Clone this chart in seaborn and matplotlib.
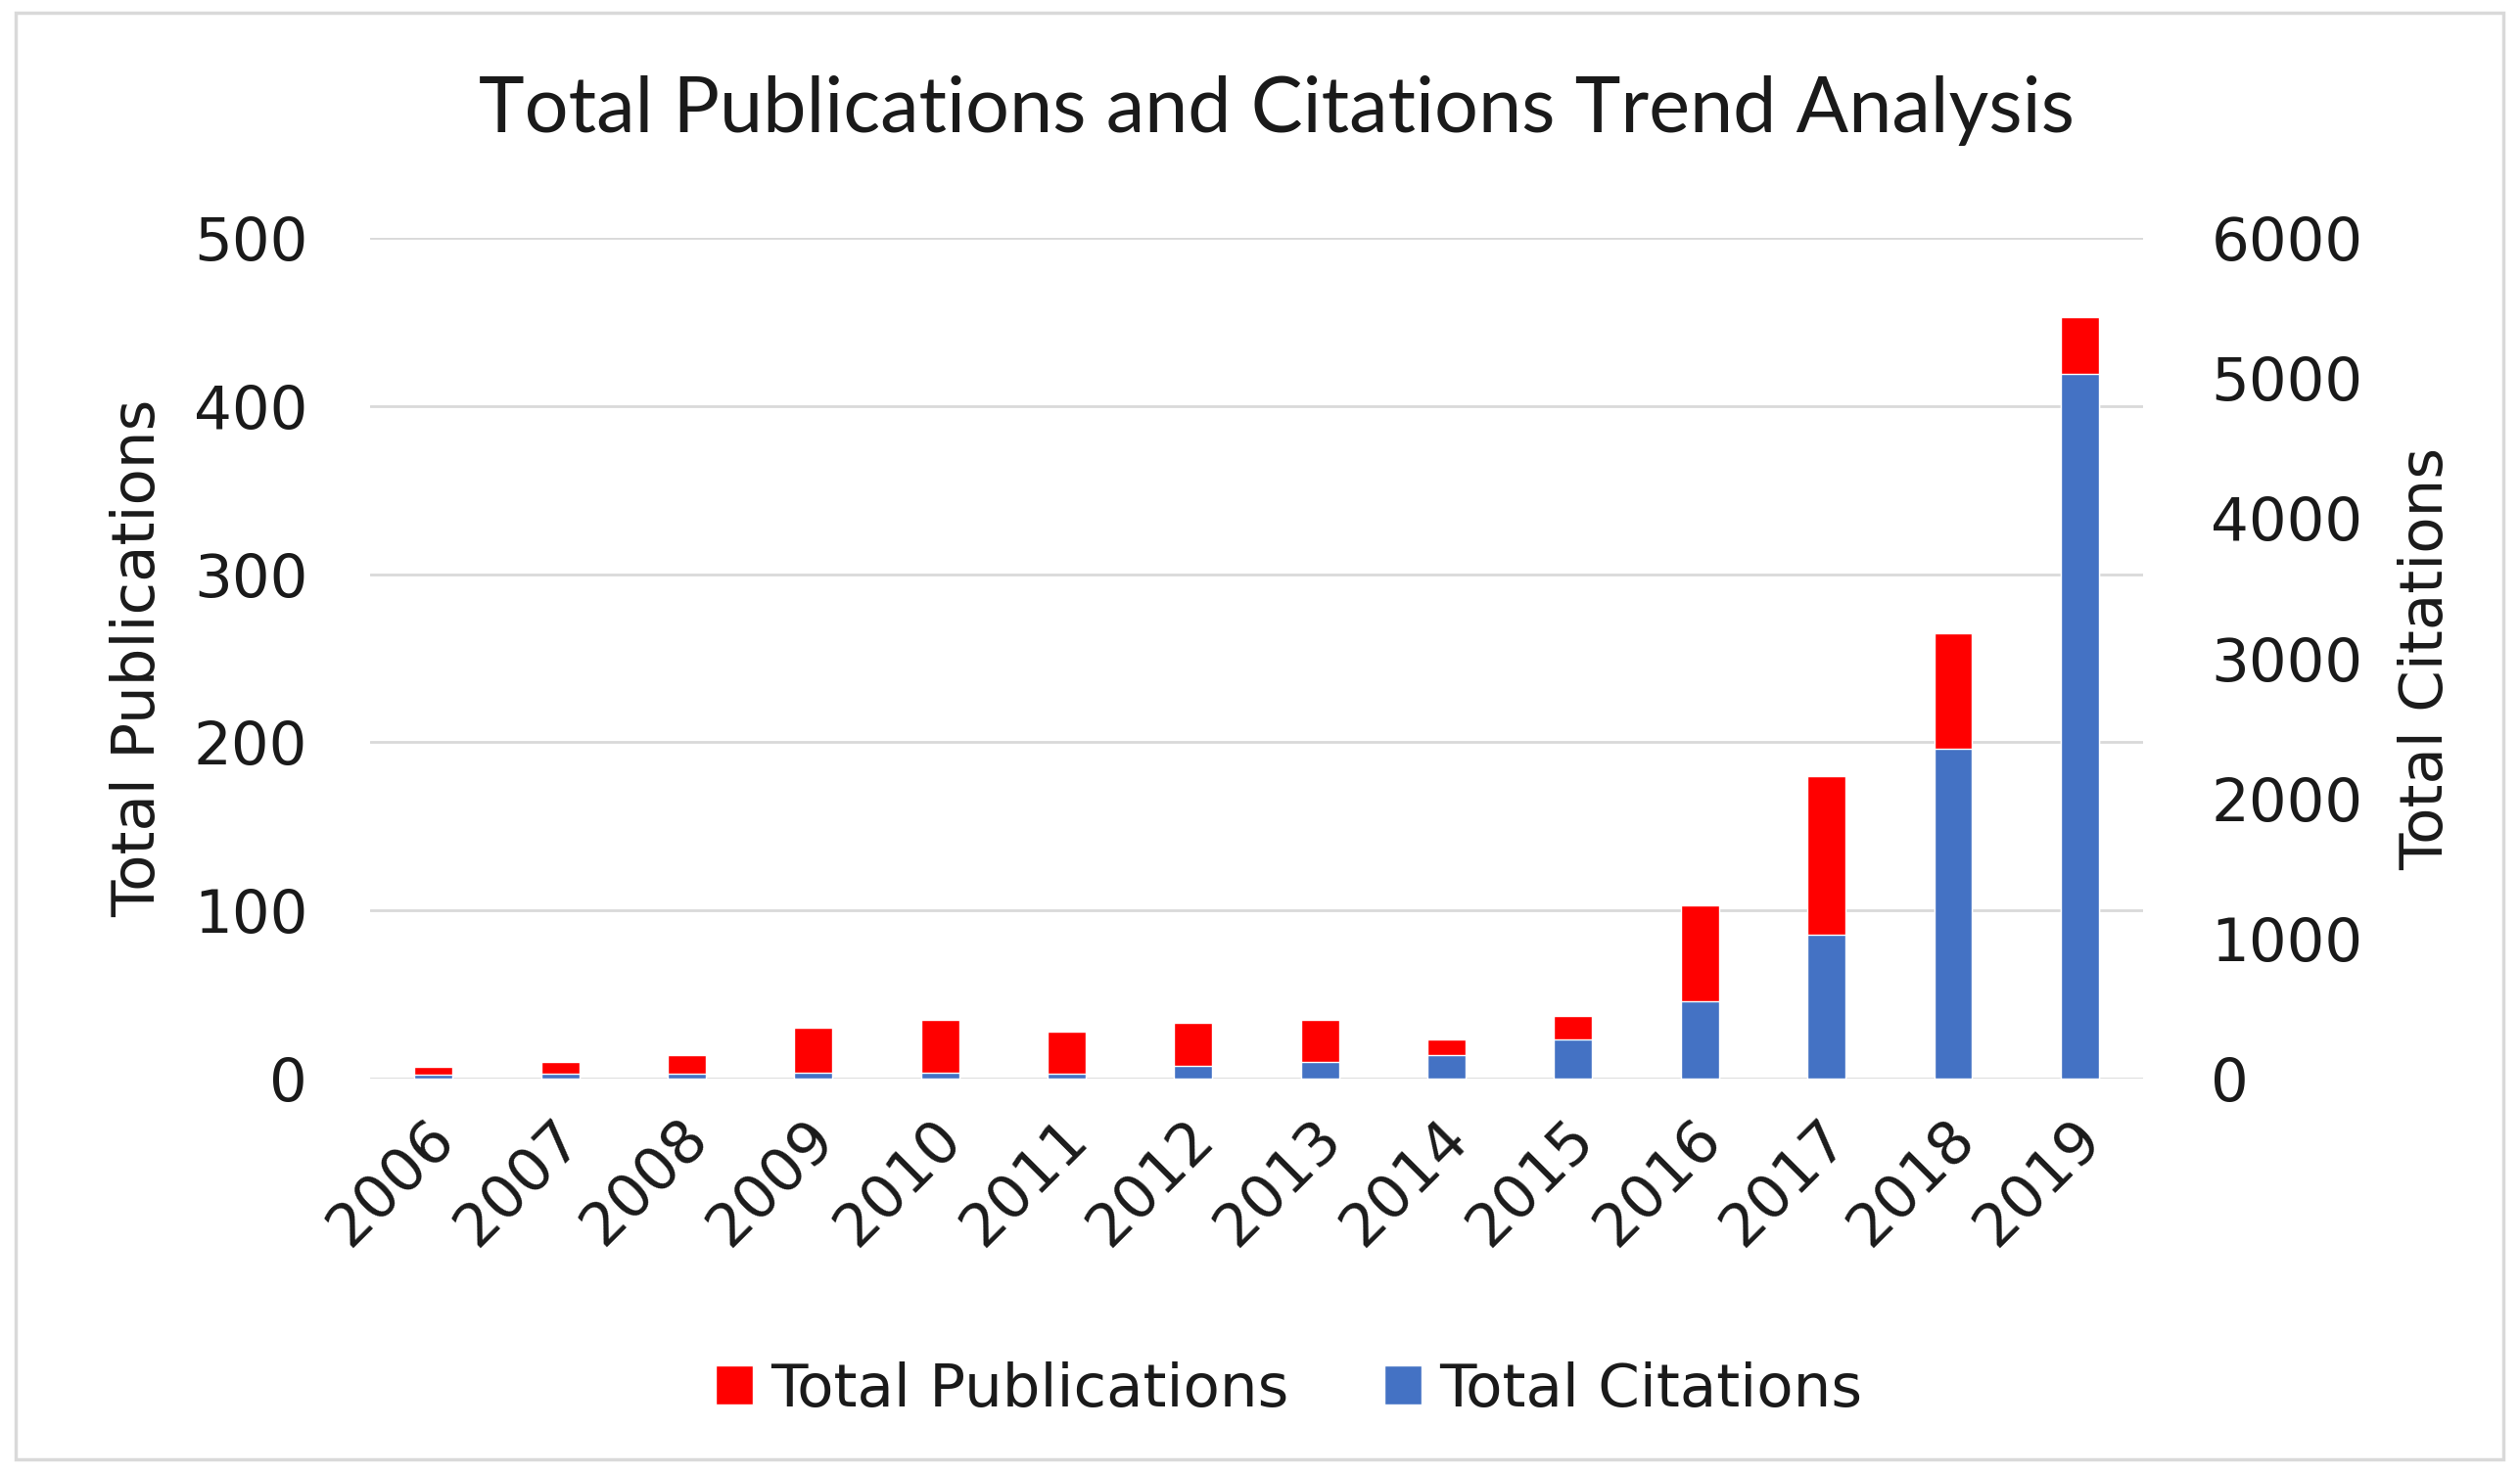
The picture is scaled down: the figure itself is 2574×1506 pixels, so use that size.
import matplotlib
matplotlib.use("Agg")
import matplotlib.pyplot as plt
import matplotlib.transforms as mtransforms
from matplotlib.patches import Patch, Rectangle
import seaborn as sns
import pandas as pd

# data
years = ["2006", "2007", "2008", "2009", "2010", "2011", "2012",
         "2013", "2014", "2015", "2016", "2017", "2018", "2019"]
publications = [7, 10, 14, 30, 35, 28, 33, 35, 23, 37, 103, 180, 265, 453]
citations = [30, 35, 35, 40, 40, 32, 88, 116, 169, 280, 553, 1028, 2352, 5030]

pub_ticks = [0, 100, 200, 300, 400, 500]
cit_ticks = [0, 1000, 2000, 3000, 4000, 5000, 6000]

RED = "#FF0000"
BLUE = "#4472C4"
GRID = "#D9D9D9"
TEXT = "#1a1a1a"
FS = 44

sns.set_style("white")
plt.rcParams["font.family"] = ["DejaVu Sans"]

df = pd.DataFrame({"year": years, "publications": publications, "citations": citations})

fig = plt.figure(figsize=(25.74, 15.06), dpi=100)
ax = fig.add_axes([0.1469, 0.2683, 0.8504 - 0.1469, 0.8386 - 0.2683])

sns.barplot(data=df, x="year", y="publications", color=RED, width=0.3,
            saturation=1, ax=ax)
ax2 = ax.twinx()
sns.barplot(data=df, x="year", y="citations", color=BLUE, width=0.3,
            saturation=1, ax=ax2)

for a in (ax, ax2):
    a.set_xlim(-0.5, len(years) - 0.5)
    for s in a.spines.values():
        s.set_visible(False)
    a.tick_params(length=0, labelsize=FS, colors=TEXT)

ax.set_ylim(0, 500)
ax.set_yticks(pub_ticks)
ax2.set_ylim(0, 6000)
ax2.set_yticks(cit_ticks)
ax.tick_params(axis="y", pad=46)
ax2.tick_params(axis="y", pad=50)
ax.tick_params(axis="x", pad=22)

ax.yaxis.grid(True, color=GRID, linewidth=2)
ax.set_axisbelow(True)
ax2.grid(False)

ax.set_xticks(range(len(years)))
ax.set_xticklabels(years, rotation=45, ha="right", rotation_mode="anchor")
shift = mtransforms.ScaledTranslation(-6 / 72, 0, fig.dpi_scale_trans)
for lbl in ax.get_xticklabels():
    lbl.set_transform(lbl.get_transform() + shift)
ax.set_xlabel("")
ax.set_ylabel("Total Publications", fontsize=FS, color=TEXT, labelpad=19)
ax2.set_ylabel("Total Citations", fontsize=FS, color=TEXT, labelpad=26)

fig.text(0.5066, 0.925, "Total Publications and Citations Trend Analysis",
         ha="center", va="center", fontsize=57, color=TEXT, family=["Lato", "DejaVu Sans"])

handles = [Patch(facecolor=RED, label="Total Publications"),
           Patch(facecolor=BLUE, label="Total Citations")]
fig.legend(handles=handles, loc="center", bbox_to_anchor=(0.5115, 0.057), ncol=2,
           frameon=False, fontsize=FS, handlelength=0.62, handleheight=0.62,
           handletextpad=0.3, columnspacing=1.6, labelcolor=TEXT)

fig.patches.append(Rectangle((16 / 2574, 1 - 1491 / 1506), (2557 - 16) / 2574,
                             (1491 - 13) / 1506, transform=fig.transFigure,
                             fill=False, edgecolor=GRID, linewidth=2.5))

fig.savefig("out.png", dpi=100)
plt.close(fig)
